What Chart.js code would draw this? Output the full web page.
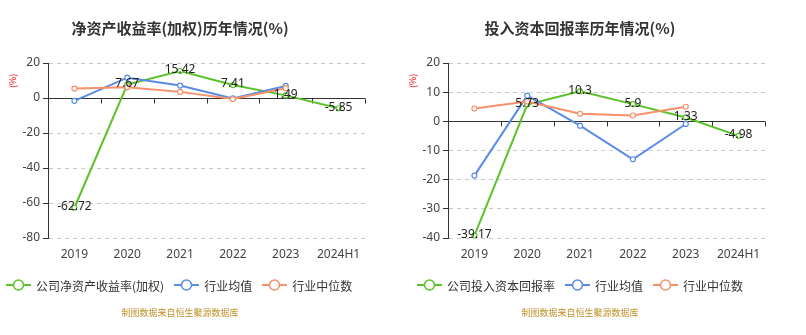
<!DOCTYPE html>
<html>
<head>
<meta charset="utf-8">
<script src="https://cdn.jsdelivr.net/npm/chart.js@4/dist/chart.umd.min.js"></script>
<style>
  html, body { margin: 0; padding: 0; background: #fff; }
  body { width: 806px; height: 335px; position: relative; overflow: hidden;
         font-family: "Noto Sans CJK SC", "Noto Sans", sans-serif; }
  .panel { position: absolute; top: 0; width: 400px; height: 335px; }
  .panel canvas { position: absolute; left: 0; top: 0; }
  .title { position: absolute; top: 18px; left: 0; width: 360px; text-align: center;
           font-size: 15px; font-weight: bold; color: #333; line-height: 20px; white-space: nowrap; }
  .unit { position: absolute; left: 9px; top: 74px; width: 12px; height: 16px; color: #e00;
          font-size: 9px; line-height: 12px; transform: rotate(-90deg); white-space: nowrap; }
  .legend { position: absolute; top: 276px; height: 18px; display: flex; align-items: center;
            font-size: 12px; color: #333; white-space: nowrap; }
  .legend .item { display: flex; align-items: center; margin-right: 10px; }
  .legend svg { margin-right: 5px; }
  .source { position: absolute; top: 306px; left: 0; width: 360px; text-align: center;
            font-size: 9px; color: #c0902a; line-height: 14px; }
</style>
</head>
<body>
<div class="panel" id="p1" style="left:0">
  <canvas id="c1" width="400" height="335"></canvas>
  <div class="title">净资产收益率(加权)历年情况(%)</div>
  <div class="unit">(%)</div>
  <div class="legend" id="l1" style="left:6px"></div>
  <div class="source">制图数据来自恒生聚源数据库</div>
</div>
<div class="panel" id="p2" style="left:400px">
  <canvas id="c2" width="400" height="335"></canvas>
  <div class="title">投入资本回报率历年情况(%)</div>
  <div class="unit">(%)</div>
  <div class="legend" id="l2" style="left:17px"></div>
  <div class="source">制图数据来自恒生聚源数据库</div>
</div>
<script>
// Periods on the category axis
const years = ['2019', '2020', '2021', '2022', '2023', '2024H1'];

// Return on equity (weighted), %
const roeCompany = [-62.72, 7.67, 15.42, 7.41, 1.49, -5.85];
const roeIndustryMean = [-1.6, 11.6, 7.1, -0.2, 6.9, null];
const roeIndustryMedian = [5.4, 6.2, 3.5, -0.6, 5.6, null];

// Return on invested capital, %
const roicCompany = [-39.17, 5.73, 10.3, 5.9, 1.33, -4.98];
const roicIndustryMean = [-18.6, 8.8, -1.5, -13.0, -0.9, null];
const roicIndustryMedian = [4.4, 6.8, 2.6, 2.0, 5.0, null];

// Series names
const roeNames = ['公司净资产收益率(加权)', '行业均值', '行业中位数'];
const roicNames = ['公司投入资本回报率', '行业均值', '行业中位数'];

// Y-axis ranges
const roeAxis = { min: -80, max: 20, step: 20 };
const roicAxis = { min: -40, max: 20, step: 10 };

const COLORS = ['#5bc22a', '#5a8be6', '#f8906a'];

// Solid zero line with boundary ticks, drawn as the category axis
const zeroAxisPlugin = {
  id: 'zeroAxis',
  beforeDatasetsDraw(chart) {
    const { ctx, chartArea, scales } = chart;
    const y0 = Math.round(scales.y.getPixelForValue(0)) + 0.5;
    const n = chart.data.labels.length;
    const band = (chartArea.right - chartArea.left) / n;
    ctx.save();
    ctx.strokeStyle = '#333';
    ctx.lineWidth = 1;
    ctx.beginPath();
    ctx.moveTo(chartArea.left, y0);
    ctx.lineTo(chartArea.right, y0);
    for (let i = 1; i <= n; i++) {
      const x = Math.round(chartArea.left + i * band) + 0.5;
      ctx.moveTo(x, y0);
      ctx.lineTo(x, y0 + 5);
    }
    ctx.stroke();
    ctx.restore();
  }
};

// Value labels on the company series
const valueLabelPlugin = {
  id: 'valueLabels',
  afterDatasetsDraw(chart) {
    const { ctx } = chart;
    const meta = chart.getDatasetMeta(0);
    const values = chart.data.datasets[0].data;
    ctx.save();
    ctx.font = '12px "Noto Sans", "DejaVu Sans", sans-serif';
    ctx.fillStyle = '#222';
    ctx.textAlign = 'center';
    ctx.textBaseline = 'middle';
    meta.data.forEach((pt, i) => {
      if (values[i] == null) return;
      ctx.fillText(String(values[i]), pt.x, pt.y - 1);
    });
    ctx.restore();
  }
};

function makeChart(canvasId, legendId, names, series, axis) {
  const datasets = series.map((data, i) => ({
    label: names[i],
    data: data,
    borderColor: COLORS[i],
    backgroundColor: '#fff',
    pointBackgroundColor: '#fff',
    pointBorderColor: COLORS[i],
    pointRadius: 2.5,
    pointBorderWidth: 1.2,
    borderWidth: 2,
    tension: 0,
    spanGaps: false,
    order: 3 - i
  }));

  new Chart(document.getElementById(canvasId), {
    type: 'line',
    data: { labels: years, datasets },
    options: {
      responsive: false,
      animation: false,
      events: [],
      layout: { padding: { left: 0, right: 35, top: 63, bottom: 0 } },
      plugins: { legend: { display: false }, title: { display: false }, tooltip: { enabled: false } },
      scales: {
        x: {
          offset: true,
          grid: { display: false },
          border: { display: false },
          ticks: { color: '#444', font: { size: 12, family: '"Noto Sans", sans-serif' }, padding: 1, maxRotation: 0 },
          afterFit(scale) { scale.height = 97; }
        },
        y: {
          min: axis.min,
          max: axis.max,
          border: { display: true, color: '#333', width: 1, dash: [4, 4] },
          grid: {
            color: ctx => (ctx.tick && ctx.tick.value === 0) ? 'rgba(0,0,0,0)' : '#ccc',
            lineWidth: 1,
            drawTicks: true,
            tickLength: 5,
            tickColor: '#333',
            tickBorderDash: []
          },
          ticks: {
            stepSize: axis.step,
            color: '#444',
            padding: 3,
            font: { size: 12, family: '"Noto Sans", sans-serif' }
          },
          afterFit(scale) { scale.width = 48; }
        }
      }
    },
    plugins: [zeroAxisPlugin, valueLabelPlugin]
  });

  // Legend entries built from series names
  const legend = document.getElementById(legendId);
  names.forEach((name, i) => {
    const item = document.createElement('div');
    item.className = 'item';
    item.innerHTML =
      '<svg width="25" height="12" viewBox="0 0 25 12">' +
      '<line x1="0" y1="6" x2="25" y2="6" stroke="' + COLORS[i] + '" stroke-width="2"/>' +
      '<circle cx="12.5" cy="6" r="5" fill="#fff" stroke="' + COLORS[i] + '" stroke-width="1.5"/>' +
      '</svg><span>' + name + '</span>';
    legend.appendChild(item);
  });
}

makeChart('c1', 'l1', roeNames, [roeCompany, roeIndustryMean, roeIndustryMedian], roeAxis);
makeChart('c2', 'l2', roicNames, [roicCompany, roicIndustryMean, roicIndustryMedian], roicAxis);
</script>
</body>
</html>
